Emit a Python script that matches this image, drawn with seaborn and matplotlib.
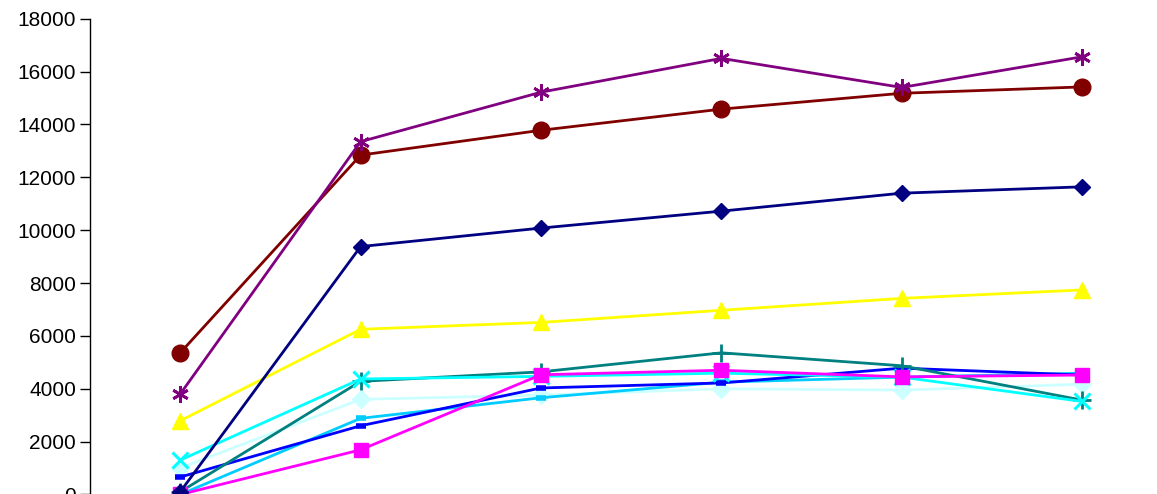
import matplotlib
matplotlib.use("Agg")
import matplotlib.pyplot as plt
import seaborn as sns
import pandas as pd

# Six measurement points along the category axis
periods = [1, 2, 3, 4, 5, 6]

# Series values
navy_vals = [100, 9380, 10080, 10720, 11400, 11640]
magenta_vals = [0, 1690, 4530, 4700, 4450, 4520]
yellow_vals = [2790, 6250, 6510, 6970, 7420, 7740]
cyan_vals = [1300, 4370, 4470, 4590, 4440, 3520]
purple_vals = [3800, 13350, 15220, 16500, 15400, 16560]
maroon_vals = [5360, 12840, 13780, 14580, 15180, 15420]
teal_vals = [100, 4280, 4640, 5360, 4870, 3570]
blue_vals = [660, 2600, 4030, 4220, 4780, 4520]
sky_vals = [0, 2880, 3660, 4250, 4440, 4590]
pale_vals = [1000, 3600, 3760, 4000, 3950, 4170]

series = [
    ("pale", pale_vals, "#CCFFFF", "D", 9, 1),
    ("sky", sky_vals, "#00CCFF", "_", 7, 4),
    ("blue", blue_vals, "#0000FF", "_", 7, 4),
    ("teal", teal_vals, "#008080", "+", 13, 2),
    ("cyan", cyan_vals, "#00FFFF", "x", 11, 2.2),
    ("magenta", magenta_vals, "#FF00FF", "s", 10, 1),
    ("yellow", yellow_vals, "#FFFF00", "^", 12, 1),
    ("navy", navy_vals, "#000080", "D", 8, 1),
    ("maroon", maroon_vals, "#800000", "o", 12, 1),
    ("purple", purple_vals, "#800080", (6, 2, 0), 12, 2),
]

sns.set_style("ticks")
plt.rcParams["font.family"] = ["Liberation Sans", "DejaVu Sans"]

fig = plt.figure(figsize=(11.57, 4.94), dpi=100)
ax = fig.add_axes([0.0778, -0.001, 0.9355, 0.9631])

xpos = list(range(len(periods)))
for name, vals, color, marker, msize, mew in series:
    df = pd.DataFrame({"x": xpos, "y": vals})
    sns.lineplot(data=df, x="x", y="y", ax=ax, color=color, linewidth=2,
                 marker=marker, markersize=msize, markeredgewidth=mew,
                 markeredgecolor=color, markerfacecolor=color, clip_on=False)

ax.set_xlim(-0.5, 5.5)
ax.set_ylim(0, 18000)
ax.set_yticks(range(0, 18001, 2000))
ax.set_xticks([])
ax.set_xlabel("")
ax.set_ylabel("")
ax.tick_params(axis="y", labelsize=15, length=7, width=1, direction="out",
               colors="black", pad=3)
for side in ("top", "right", "bottom"):
    ax.spines[side].set_visible(False)
ax.spines["left"].set_color("black")
ax.spines["left"].set_linewidth(1)
ax.patch.set_alpha(0)

fig.savefig("out.png", dpi=100)
